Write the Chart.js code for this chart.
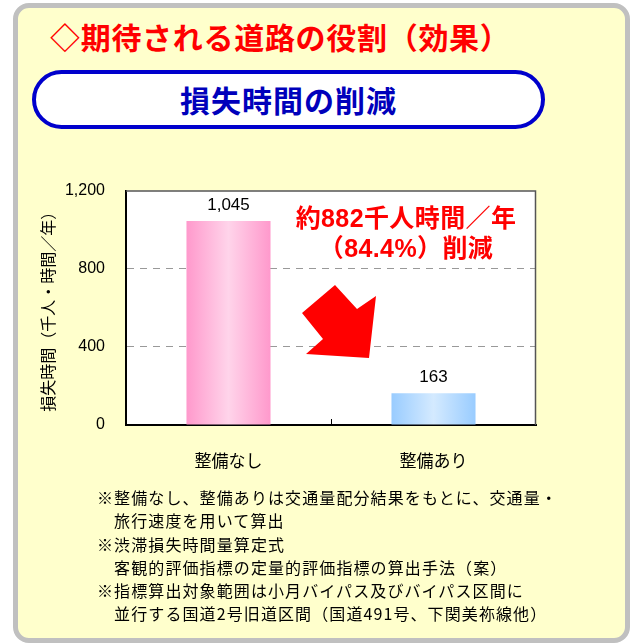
<!DOCTYPE html>
<html lang="ja">
<head>
<meta charset="utf-8">
<script src="https://cdn.jsdelivr.net/npm/chart.js@4/dist/chart.umd.min.js"></script>
<style>
  body { margin:0; width:630px; height:643px; overflow:hidden; background:#fff; position:relative;
    font-family:'Noto Sans CJK JP', sans-serif; }
  #panel { position:absolute; left:13px; top:3px; width:607px; height:630px; border:5px solid #c0c0c0;
    border-radius:16px; background:#ffffcc; }
  #title { position:absolute; left:50px; top:20px; font-size:30px; line-height:32px; font-weight:700;
    color:#ff0000; letter-spacing:0.7px; white-space:nowrap; }
  #pill { position:absolute; left:32px; top:70px; width:513px; height:59px; box-sizing:border-box;
    border:4px solid #0000cc; border-radius:30px; background:#fff; text-align:center;
    font-size:30px; line-height:51px; font-weight:700; color:#0000bb; letter-spacing:1px; }
  #chart-wrap { position:absolute; left:0; top:160px; width:630px; height:320px; }
  #callout { position:absolute; left:256px; top:203px; width:300px; text-align:center; color:#ff0000;
    font-family:'Liberation Sans','Noto Sans CJK JP',sans-serif; font-size:25px; font-weight:700;
    line-height:30px; letter-spacing:0.4px; }
  #arrow { position:absolute; left:0; top:0; pointer-events:none; }
  #notes { position:absolute; left:97px; top:486px; font-size:16px; line-height:23.3px; letter-spacing:1.1px;
    color:#000; white-space:pre; }
</style>
</head>
<body>
<div id="panel"></div>
<div id="title">◇期待される道路の役割（効果）</div>
<div id="pill">損失時間の削減</div>
<div id="chart-wrap"><canvas id="lossChart" width="630" height="320"></canvas></div>
<svg id="arrow" width="630" height="643"><polygon fill="#ff0000" points="302,313 335,285 357,309 376,296 369,358 306,354 323,339"/></svg>
<div id="callout">約882千人時間／年<br>（84.4%）削減</div>
<div id="notes">※整備なし、整備ありは交通量配分結果をもとに、交通量・
　旅行速度を用いて算出
※渋滞損失時間量算定式
　客観的評価指標の定量的評価指標の算出手法（案）
※指標算出対象範囲は小月バイパス及びバイパス区間に
　並行する国道2号旧道区間（国道491号、下関美祢線他）</div>
<script>
// values
const categories = ['整備なし', '整備あり'];
const lossHours = [1045, 163];            // 千人・時間／年
const yMax = 1200;
const yStep = 400;
const dashedGridValues = [400, 800];

// bar look
const barEdgeColors = ['#ff99cc', '#99ccff'];
const barMidColors = ['#ffd4ea', '#d4eaff'];
const barPct = 0.41;

const numFont = "'Liberation Sans', 'Noto Sans CJK JP', sans-serif";
const jpFont = "'Noto Sans CJK JP', sans-serif";
Chart.defaults.color = '#000';

function barGradient(c) {
  const chart = c.chart;
  const a = chart.chartArea;
  const i = c.dataIndex;
  if (!a || i === undefined) return barEdgeColors[0];
  const cx = chart.scales.x.getPixelForValue(i);
  const half = (a.right - a.left) / categories.length * barPct / 2;
  const g = chart.ctx.createLinearGradient(cx - half, 0, cx + half, 0);
  g.addColorStop(0, barEdgeColors[i]);
  g.addColorStop(0.5, barMidColors[i]);
  g.addColorStop(1, barEdgeColors[i]);
  return g;
}

// white plot area, thin top/right frame and the small divider tick
const plotFrame = {
  id: 'plotFrame',
  beforeDraw(chart) {
    const { ctx, chartArea: a } = chart;
    ctx.save();
    ctx.fillStyle = '#fff';
    ctx.fillRect(a.left, a.top, a.right - a.left, a.bottom - a.top);
    ctx.restore();
  },
  afterDraw(chart) {
    const { ctx, chartArea: a, scales: { x } } = chart;
    ctx.save();
    ctx.strokeStyle = '#555';
    ctx.lineWidth = 1.5;
    ctx.beginPath();
    ctx.moveTo(a.left, a.top + 0.5);
    ctx.lineTo(a.right - 0.5, a.top + 0.5);
    ctx.lineTo(a.right - 0.5, a.bottom);
    ctx.stroke();
    const mid = Math.round((x.getPixelForValue(0) + x.getPixelForValue(1)) / 2) + 0.5;
    ctx.strokeStyle = '#000';
    ctx.lineWidth = 1;
    ctx.beginPath();
    ctx.moveTo(mid, a.bottom);
    ctx.lineTo(mid, a.bottom - 6);
    ctx.stroke();
    ctx.restore();
  }
};

// value labels over the bars
const valueLabels = {
  id: 'valueLabels',
  afterDatasetsDraw(chart) {
    const { ctx } = chart;
    const meta = chart.getDatasetMeta(0);
    ctx.save();
    ctx.font = '17px ' + numFont;
    ctx.fillStyle = '#000';
    ctx.textAlign = 'center';
    ctx.textBaseline = 'middle';
    meta.data.forEach((bar, i) => {
      ctx.fillText(lossHours[i].toLocaleString('en-US'), bar.x, bar.y - 16);
    });
    ctx.restore();
  }
};

new Chart(document.getElementById('lossChart').getContext('2d'), {
  type: 'bar',
  data: {
    labels: categories,
    datasets: [{
      data: lossHours,
      backgroundColor: barGradient,
      borderWidth: 0,
      barPercentage: barPct,
      categoryPercentage: 1
    }]
  },
  options: {
    responsive: false,
    animation: false,
    layout: { padding: { top: 26, right: 94, left: 0, bottom: 0 } },
    plugins: { legend: { display: false }, tooltip: { enabled: false } },
    scales: {
      x: {
        grid: { display: false },
        border: { display: true, color: '#000', width: 2 },
        ticks: { font: { family: jpFont, size: 17 }, padding: 17, color: '#000' },
        afterFit(s) { s.height = 55; }
      },
      y: {
        min: 0,
        max: yMax,
        ticks: { stepSize: yStep, font: { family: numFont, size: 16 }, padding: 21, color: '#000' },
        grid: {
          drawTicks: false,
          color: c => dashedGridValues.includes(c.tick.value) ? '#999' : 'rgba(0,0,0,0)',
          lineWidth: 1
        },
        border: { display: true, color: '#000', width: 2, dash: [7, 6] },
        title: {
          display: true,
          text: '損失時間（千人・時間／年）',
          font: { family: jpFont, size: 16 },
          color: '#000',
          padding: { top: 38, bottom: 0 }
        },
        afterFit(s) { s.width = 126; }
      }
    }
  },
  plugins: [plotFrame, valueLabels]
});
</script>
</body>
</html>
